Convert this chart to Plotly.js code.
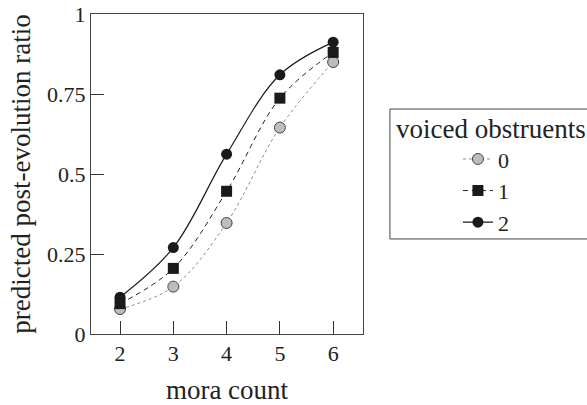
<!DOCTYPE html>
<html>
<head>
<meta charset="utf-8">
<script src="https://cdn.plot.ly/plotly-3.0.1.min.js"></script>
<style>
html,body{margin:0;padding:0;background:#fff;}
#chart{width:587px;height:405px;}
</style>
</head>
<body>
<div id="chart"></div>
<script>
var moraCount = [2, 3, 4, 5, 6];
var seriesNames = ['0', '1', '2'];
var ratio0 = [0.078, 0.148, 0.347, 0.645, 0.850];
var ratio1 = [0.095, 0.205, 0.446, 0.737, 0.880];
var ratio2 = [0.115, 0.270, 0.562, 0.810, 0.912];
var xTicks = [2, 3, 4, 5, 6];
var yTicks = [0, 0.25, 0.5, 0.75, 1];
var yTickText = ['0', '0.25', '0.5', '0.75', '1'];
var legendTitle = 'voiced obstruents';
var xTitle = 'mora count';
var yTitle = 'predicted post-evolution ratio';

var FONT = 'Liberation Serif';

var traces = [
  {x: moraCount, y: ratio0, name: seriesNames[0], type: 'scatter', mode: 'lines+markers',
   line: {shape: 'spline', color: '#8a8a8a', width: 1, dash: 'dot'},
   marker: {symbol: 'circle', size: 11, color: '#bdbdbd', line: {color: '#444', width: 1}}},
  {x: moraCount, y: ratio1, name: seriesNames[1], type: 'scatter', mode: 'lines+markers',
   line: {shape: 'spline', color: '#222', width: 1, dash: '5px,4px'},
   marker: {symbol: 'square', size: 11, color: '#1a1a1a', line: {color: '#1a1a1a', width: 0}}},
  {x: moraCount, y: ratio2, name: seriesNames[2], type: 'scatter', mode: 'lines+markers',
   line: {shape: 'spline', color: '#1a1a1a', width: 1.2},
   marker: {symbol: 'circle', size: 11, color: '#1a1a1a', line: {color: '#1a1a1a', width: 0}}}
];

var layout = {
  width: 587, height: 405,
  margin: {l: 91, r: 224, t: 14, b: 71, pad: 0},
  paper_bgcolor: '#fff', plot_bgcolor: '#fff',
  showlegend: true,
  legend: {x: 1.349, y: 0.612, xanchor: 'left', yanchor: 'top', bgcolor: 'rgba(0,0,0,0)',
           borderwidth: 0, font: {family: FONT, size: 22, color: '#222'}, traceorder: 'normal'},
  xaxis: {
    range: [1.455, 6.56], tickvals: xTicks, ticktext: xTicks.map(String),
    ticks: 'inside', ticklen: 13, tickwidth: 1, tickcolor: '#333',
    showline: true, linecolor: '#444', linewidth: 1, mirror: true,
    showgrid: false, zeroline: false,
    tickfont: {family: FONT, size: 22, color: '#222'},
    title: {text: xTitle, font: {family: FONT, size: 27, color: '#222'}, standoff: 18}
  },
  yaxis: {
    range: [0, 1], tickvals: yTicks, ticktext: yTickText,
    ticks: 'inside', ticklen: 13, tickwidth: 1, tickcolor: '#333',
    showline: true, linecolor: '#444', linewidth: 1, mirror: true,
    showgrid: false, zeroline: false,
    tickfont: {family: FONT, size: 22, color: '#222'},
    title: {text: yTitle, font: {family: FONT, size: 27, color: '#222'}, standoff: 8}
  },
  shapes: [
    {type: 'rect', xref: 'paper', yref: 'paper', x0: 1.099, x1: 1.84, y0: 0.297, y1: 0.703,
     line: {color: '#444', width: 1}, fillcolor: 'rgba(0,0,0,0)'}
  ],
  annotations: [
    {text: legendTitle, xref: 'paper', yref: 'paper', x: 1.471, y: 0.641,
     xanchor: 'center', yanchor: 'middle', showarrow: false,
     font: {family: FONT, size: 27, color: '#222'}}
  ]
};

Plotly.newPlot('chart', traces, layout, {displayModeBar: false, staticPlot: true});
</script>
</body>
</html>
